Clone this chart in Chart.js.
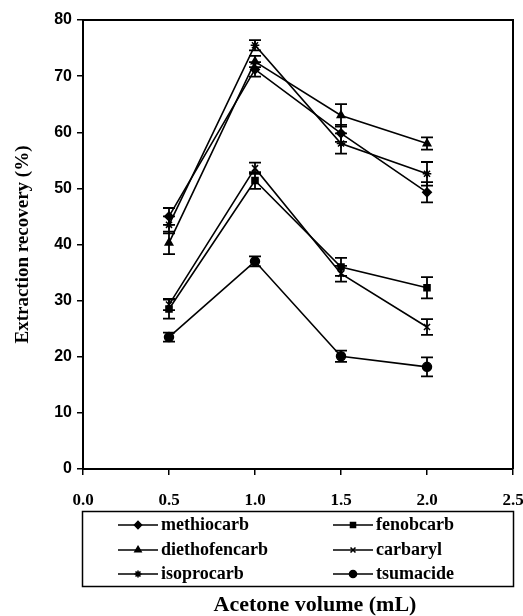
<!DOCTYPE html>
<html>
<head>
<meta charset="utf-8">
<title>Extraction recovery vs acetone volume</title>
<script src="https://cdn.jsdelivr.net/npm/chart.js@4.4.1/dist/chart.umd.min.js"></script>
<style>
    html, body { margin: 0; padding: 0; background: #fff; }
    canvas { display: block; }
</style>
</head>
<body>
<canvas id="chart" width="523" height="616"></canvas>
<script>
// acetone volume (mL)
const acetoneVolumes = [0.5, 1.0, 1.5, 2.0];

const seriesNames = ['methiocarb', 'fenobcarb', 'diethofencarb', 'carbaryl', 'isoprocarb', 'tsumacide'];
const seriesMarkers = ['rectRot', 'rect', 'triangle', 'crossRot', 'star', 'circle'];

// extraction recovery (%)
const methiocarb = [45.0, 71.2, 59.8, 49.3];
const fenobcarb = [28.5, 51.4, 36.0, 32.3];
const diethofencarb = [40.3, 72.6, 63.0, 58.0];
const carbaryl = [29.3, 53.6, 34.8, 25.3];
const isoprocarb = [43.5, 75.5, 58.0, 52.6];
const tsumacide = [23.5, 37.0, 20.1, 18.2];

// standard deviations (error bars)
const methiocarbSd = [1.5, 1.3, 1.5, 1.8];
const fenobcarbSd = [1.7, 1.5, 1.6, 1.9];
const diethofencarbSd = [2.0, 1.0, 2.0, 1.1];
const carbarylSd = [1.0, 1.0, 1.4, 1.4];
const isoprocarbSd = [1.5, 0.9, 1.8, 2.1];
const tsumacideSd = [0.8, 0.9, 1.0, 1.7];

const xTicks = [0.0, 0.5, 1.0, 1.5, 2.0, 2.5];
const yTicks = [0, 10, 20, 30, 40, 50, 60, 70, 80];

const seriesValues = [methiocarb, fenobcarb, diethofencarb, carbaryl, isoprocarb, tsumacide];
const seriesErrors = [methiocarbSd, fenobcarbSd, diethofencarbSd, carbarylSd, isoprocarbSd, tsumacideSd];

const serif = "'Liberation Serif', 'Times New Roman', serif";
const sans = "'Liberation Sans', Arial, sans-serif";

const datasets = seriesNames.map((name, i) => ({
    label: name,
    data: acetoneVolumes.map((x, j) => ({ x: x, y: seriesValues[i][j] })),
    errors: seriesErrors[i],
    borderColor: '#000',
    backgroundColor: '#000',
    borderWidth: 1.6,
    pointStyle: seriesMarkers[i],
    pointRadius: seriesMarkers[i] === 'circle' ? 4.5 : 4.3,
    pointBorderWidth: 1.5,
    pointBackgroundColor: '#000',
    pointBorderColor: '#000',
    tension: 0
}));

// error bars, drawn with the chart scales
const errorBars = {
    id: 'errorBars',
    afterDatasetsDraw(chart) {
        const ctx = chart.ctx;
        const xs = chart.scales.x;
        const ys = chart.scales.y;
        ctx.save();
        ctx.strokeStyle = '#000';
        ctx.lineWidth = 1.8;
        chart.data.datasets.forEach(ds => {
            ds.data.forEach((p, j) => {
                const e = ds.errors[j];
                const px = xs.getPixelForValue(p.x);
                const top = ys.getPixelForValue(p.y + e);
                const bot = ys.getPixelForValue(p.y - e);
                ctx.beginPath();
                ctx.moveTo(px, top);
                ctx.lineTo(px, bot);
                ctx.moveTo(px - 6, top);
                ctx.lineTo(px + 6, top);
                ctx.moveTo(px - 6, bot);
                ctx.lineTo(px + 6, bot);
                ctx.stroke();
            });
        });
        ctx.restore();
    }
};

// frame, boxed legend and x axis title below the legend
const extras = {
    id: 'extras',
    afterDraw(chart) {
        const ctx = chart.ctx;
        const a = chart.chartArea;
        ctx.save();
        ctx.strokeStyle = '#000';
        ctx.lineWidth = 2;
        ctx.beginPath();
        ctx.moveTo(a.left, a.top);
        ctx.lineTo(a.right, a.top);
        ctx.lineTo(a.right, a.bottom);
        ctx.stroke();

        // legend
        ctx.lineWidth = 1.5;
        ctx.strokeRect(82.5, 511.5, 431, 75);
        ctx.font = 'bold 18px ' + serif;
        ctx.fillStyle = '#000';
        ctx.textBaseline = 'middle';
        ctx.textAlign = 'left';
        const cols = [118, 333];
        const rows = [525, 550, 574];
        chart.data.datasets.forEach((ds, i) => {
            const x = cols[i % 2];
            const y = rows[Math.floor(i / 2)];
            ctx.lineWidth = 1.6;
            ctx.beginPath();
            ctx.moveTo(x, y);
            ctx.lineTo(x + 40, y);
            ctx.stroke();
            Chart.helpers.drawPoint(ctx, {
                pointStyle: ds.pointStyle,
                radius: 3.5,
                rotation: 0,
                borderWidth: 1.3
            }, x + 20, y);
            ctx.fillText(ds.label, x + 43, y);
        });

        // x axis title
        ctx.font = 'bold 22px ' + serif;
        ctx.textAlign = 'center';
        ctx.fillText('Acetone volume (mL)', 315, 605);
        ctx.restore();
    }
};

new Chart(document.getElementById('chart'), {
    type: 'line',
    data: { datasets: datasets },
    options: {
        responsive: false,
        animation: false,
        layout: { padding: { left: 0, right: 10, top: 20, bottom: 107 } },
        plugins: {
            legend: { display: false },
            tooltip: { enabled: false }
        },
        scales: {
            x: {
                type: 'linear',
                min: 0,
                max: 2.5,
                afterBuildTicks: s => { s.ticks = xTicks.map(v => ({ value: v })); },
                afterFit: s => { s.height = 40; s.paddingLeft = 0; s.paddingRight = 0; },
                border: { color: '#000', width: 2 },
                grid: { drawOnChartArea: false, drawTicks: true, tickLength: 6, color: '#000', lineWidth: 1.5 },
                ticks: {
                    color: '#000',
                    padding: 15,
                    font: { family: serif, size: 17, weight: 'bold' },
                    callback: v => v.toFixed(1)
                }
            },
            y: {
                min: 0,
                max: 80,
                afterBuildTicks: s => { s.ticks = yTicks.map(v => ({ value: v })); },
                afterFit: s => { s.width = 83; },
                border: { color: '#000', width: 2 },
                grid: { drawOnChartArea: false, drawTicks: true, tickLength: 6, color: '#000', lineWidth: 1.5 },
                ticks: {
                    color: '#000',
                    padding: 5,
                    font: { family: sans, size: 16, weight: 'bold' }
                },
                title: {
                    display: true,
                    text: 'Extraction recovery (%)',
                    color: '#000',
                    padding: { top: 12, bottom: 0 },
                    font: { family: serif, size: 19, weight: 'bold' }
                }
            }
        }
    },
    plugins: [errorBars, extras]
});
</script>
</body>
</html>
